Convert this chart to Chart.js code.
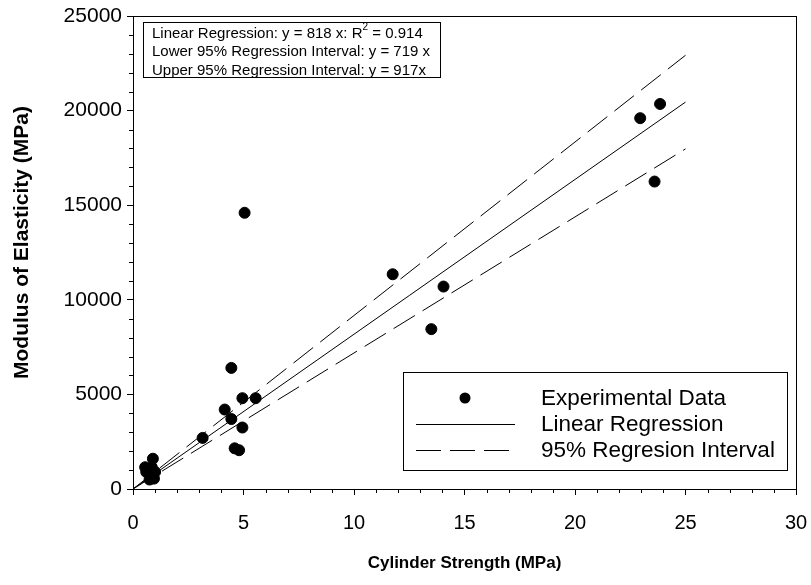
<!DOCTYPE html>
<html>
<head>
<meta charset="utf-8">
<script src="https://cdn.jsdelivr.net/npm/chart.js@4.4.1/dist/chart.umd.min.js"></script>
<style>
  html, body { margin: 0; padding: 0; background: #fff; }
  canvas { display: block; }
</style>
</head>
<body>
<canvas id="chart" width="811" height="585"></canvas>
<script>
// experimental points (cylinder strength MPa, modulus MPa)
const strengthX = [0.55, 0.6, 0.7, 0.75, 0.85, 0.9, 0.95, 1.0, 0.8,
  3.15, 4.15, 4.45, 4.45, 4.6, 4.8, 4.95, 4.95, 5.55, 5.05,
  11.75, 13.5, 14.05, 22.95, 23.6, 23.85];
const modulusY = [1150, 900, 1050, 500, 1150, 1600, 550, 900, 700,
  2700, 4200, 6400, 3700, 2150, 2050, 3250, 4800, 4800, 14600,
  11350, 8450, 10700, 19600, 16250, 20350];

// regression lines (end points)
const regX = [0, 25];
const linearY = [0, 20450];
const lowerY = [0, 17975];
const upperY = [0, 22925];

const xTicks = [0, 5, 10, 15, 20, 25, 30];
const yTicks = [0, 5000, 10000, 15000, 20000, 25000];

const yTitle = "Modulus of Elasticity (MPa)";
const xTitle = "Cylinder Strength (MPa)";

const noteLines = [
  ["Linear Regression: y = 818 x: R", "2", " = 0.914"],
  ["Lower 95% Regression Interval: y = 719 x"],
  ["Upper 95% Regression Interval: y = 917x"]
];

const FONT = "'Liberation Sans', Arial, sans-serif";

function pts(xs, ys) {
  return xs.map((x, i) => ({ x: x, y: ys[i] }));
}

// --------------------------
// frame, minor ticks, y title, note box, legend
// --------------------------
const extras = {
  id: "extras",
  afterDraw(chart) {
    const ctx = chart.ctx;
    const a = chart.chartArea;
    const xs = chart.scales.x, ys = chart.scales.y;
    ctx.save();

    // frame
    ctx.strokeStyle = "#000";
    ctx.lineWidth = 1;
    ctx.strokeRect(Math.round(a.left) + 0.5, Math.round(a.top) + 0.5,
      Math.round(a.right - a.left), Math.round(a.bottom - a.top));

    // minor ticks
    ctx.beginPath();
    for (let v = 0; v <= 30; v += 1) {
      if (v % 5 === 0) continue;
      const px = Math.round(xs.getPixelForValue(v)) + 0.5;
      ctx.moveTo(px, a.bottom);
      ctx.lineTo(px, a.bottom + 4);
    }
    for (let v = 0; v <= 25000; v += 1000) {
      if (v % 5000 === 0) continue;
      const py = Math.round(ys.getPixelForValue(v)) + 0.5;
      ctx.moveTo(a.left, py);
      ctx.lineTo(a.left - 4, py);
    }
    ctx.stroke();

    ctx.fillStyle = "#000";

    // y axis title
    ctx.save();
    ctx.translate(22, (a.top + a.bottom) / 2 - 10);
    ctx.rotate(-Math.PI / 2);
    ctx.font = "bold 21px " + FONT;
    ctx.textAlign = "center";
    ctx.textBaseline = "middle";
    ctx.fillText(yTitle, 0, 0);
    ctx.restore();

    // note box
    const nx = a.left + 10, ny = a.top + 6;
    ctx.font = "15px " + FONT;
    ctx.textBaseline = "middle";
    let maxW = 0;
    noteLines.forEach((parts, i) => {
      let cx = nx + 9;
      const cy = ny + 11.5 + i * 18.5;
      parts.forEach((p, j) => {
        if (j === 1) {
          ctx.font = "10px " + FONT;
          ctx.fillText(p, cx, cy - 6);
          cx += ctx.measureText(p).width;
          ctx.font = "15px " + FONT;
        } else {
          ctx.fillText(p, cx, cy);
          cx += ctx.measureText(p).width;
        }
      });
      maxW = Math.max(maxW, cx - nx);
    });
    ctx.strokeRect(Math.round(nx) + 0.5, Math.round(ny) + 0.5, Math.round(maxW + 10), 55);

    // legend box
    const lr = a.right - 9, lb = a.bottom - 19;
    const ll = lr - 384, lt = lb - 98;
    ctx.strokeRect(Math.round(ll) + 0.5, Math.round(lt) + 0.5, 384, 98);
    const ds = chart.data.datasets;
    const rows = [ds[0], ds[1], ds[2]];
    ctx.font = "22.5px " + FONT;
    rows.forEach((d, i) => {
      const cy = lt + 26 + i * 26;
      if (i === 0) {
        ctx.beginPath();
        ctx.arc(ll + 62, cy, 5.5, 0, Math.PI * 2);
        ctx.fill();
      } else {
        ctx.beginPath();
        ctx.setLineDash(d.borderDash || []);
        ctx.moveTo(ll + 13, Math.round(cy) + 0.5);
        ctx.lineTo(ll + 112, Math.round(cy) + 0.5);
        ctx.stroke();
        ctx.setLineDash([]);
      }
      ctx.fillText(d.label, ll + 138, cy + 1);
    });
    ctx.restore();
  }
};

new Chart(document.getElementById("chart"), {
  type: "scatter",
  data: {
    datasets: [
      {
        label: "Experimental Data",
        data: pts(strengthX, modulusY),
        backgroundColor: "#000",
        borderColor: "#000",
        pointRadius: 5.5,
        pointHoverRadius: 5.5,
        order: 0
      },
      {
        label: "Linear Regression",
        data: pts(regX, linearY),
        showLine: true,
        borderColor: "#000",
        borderWidth: 1,
        pointRadius: 0,
        order: 1
      },
      {
        label: "95% Regresion Interval",
        data: pts(regX, upperY),
        showLine: true,
        borderColor: "#000",
        borderWidth: 1,
        borderDash: [25, 9],
        pointRadius: 0,
        order: 1
      },
      {
        label: "Lower",
        data: pts(regX, lowerY),
        showLine: true,
        borderColor: "#000",
        borderWidth: 1,
        borderDash: [25, 9],
        pointRadius: 0,
        order: 1
      }
    ]
  },
  options: {
    responsive: false,
    animation: false,
    layout: { padding: { top: 16, right: 15, left: 0, bottom: 0 } },
    plugins: {
      legend: { display: false },
      tooltip: { enabled: false }
    },
    scales: {
      x: {
        type: "linear",
        min: 0,
        max: 30,
        afterBuildTicks(scale) {
          scale.ticks = xTicks.map(v => ({ value: v }));
        },
        afterFit(scale) {
          scale.height = 96;
          scale.paddingLeft = 0;
          scale.paddingRight = 0;
        },
        border: { color: "#000", width: 1 },
        grid: { drawOnChartArea: false, tickLength: 6, tickColor: "#000" },
        ticks: {
          color: "#000",
          font: { family: FONT, size: 20 },
          padding: 16,
          maxRotation: 0,
          callback: v => String(v)
        },
        title: {
          display: true,
          text: xTitle,
          color: "#000",
          font: { family: FONT, size: 17, weight: "bold" },
          padding: { top: 4, bottom: 11 }
        }
      },
      y: {
        type: "linear",
        min: 0,
        max: 25000,
        afterBuildTicks(scale) {
          scale.ticks = yTicks.map(v => ({ value: v }));
        },
        afterFit(scale) {
          scale.width = 133;
          scale.paddingTop = 0;
          scale.paddingBottom = 0;
        },
        border: { color: "#000", width: 1 },
        grid: { drawOnChartArea: false, tickLength: 6, tickColor: "#000" },
        ticks: {
          color: "#000",
          font: { family: FONT, size: 21 },
          padding: 5,
          callback: v => String(v)
        }
      }
    }
  },
  plugins: [extras]
});
</script>
</body>
</html>
